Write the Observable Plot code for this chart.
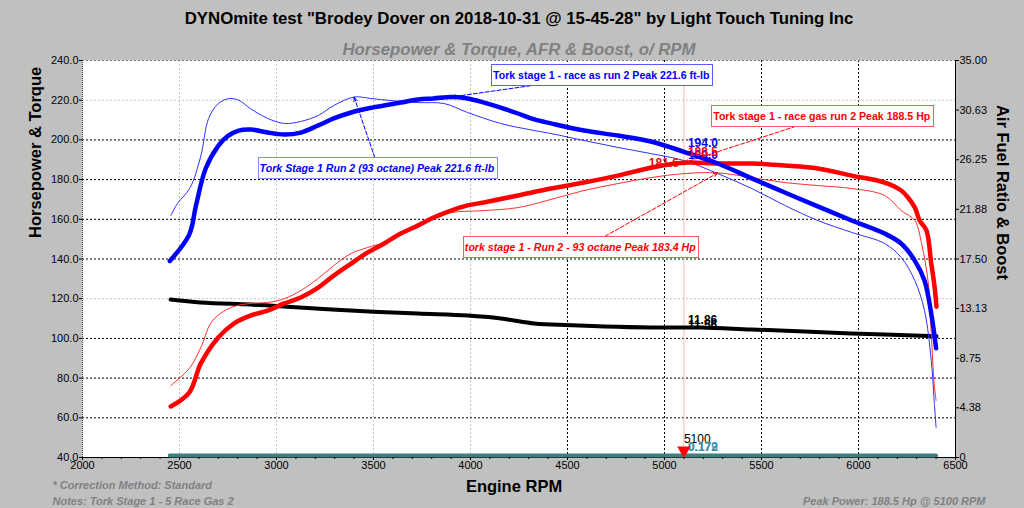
<!DOCTYPE html>
<html><head><meta charset="utf-8">
<script src="https://cdn.jsdelivr.net/npm/d3@7"></script>
<script src="https://cdn.jsdelivr.net/npm/@observablehq/plot@0.6"></script>
<style>
html,body{margin:0;padding:0;background:#c0c0c0;}
#chart{width:1024px;height:508px;}
</style></head><body><div id="chart"></div>
<script>
// ---------- data ----------
const titleText = "DYNOmite test \"Brodey Dover on 2018-10-31 @ 15-45-28\" by Light Touch Tuning Inc";
const subtitleText = "Horsepower & Torque, AFR & Boost, o/ RPM";
const leftAxisTitle = "Horsepower & Torque";
const rightAxisTitle = "Air Fuel Ratio & Boost";
const xAxisTitle = "Engine RPM";
const footLeft = ["* Correction Method: Standard", "Notes: Tork Stage 1 - 5 Race Gas 2"];
const footRight = "Peak Power: 188.5 Hp @ 5100 RPM";

const rpmTicks = [2000, 2500, 3000, 3500, 4000, 4500, 5000, 5500, 6000, 6500];
const leftTicks = [40, 60, 80, 100, 120, 140, 160, 180, 200, 220, 240];
const rightTickLabels = ["0", "4.38", "8.75", "13.13", "17.50", "21.88", "26.25", "30.63", "35.00"];

// Torque, race gas run 2 (thick blue), ft-lb
const raceTqRpm = [2450, 2550, 2585, 2635, 2700, 2750, 2805, 2870, 2955, 3040, 3125, 3215, 3295, 3385, 3470, 3555, 3640, 3730, 3810, 3900, 3985, 4070, 4155, 4245, 4330, 4415, 4585, 4760, 4930, 5100, 5275, 5450, 5620, 5790, 5965, 6135, 6220, 6290, 6340, 6375, 6400];
const raceTq    = [139, 152.3, 167, 185.6, 197, 202, 204.7, 205.2, 203.7, 202.7, 203.7, 207.3, 210.8, 213.8, 215.8, 217.3, 218.8, 220.4, 220.9, 221.6, 220.9, 218.8, 216.3, 213.3, 210.3, 208.3, 204.7, 202.2, 199.2, 194.0, 188.1, 180.6, 173.5, 166.5, 159.4, 152.8, 147.8, 139.2, 129.2, 112.5, 95];

// Torque, run 2 93 octane (thin blue)
const octTqRpm = [2455, 2490, 2555, 2610, 2650, 2700, 2755, 2805, 2865, 2955, 3040, 3125, 3215, 3295, 3400, 3485, 3590, 3730, 3865, 3985, 4155, 4330, 4415, 4585, 4760, 4930, 5100, 5275, 5450, 5620, 5790, 5965, 6135, 6220, 6290, 6340, 6375, 6390, 6400];
const octTq    = [161.9, 168, 176, 192, 210.8, 218.3, 220.8, 220, 215.8, 210.8, 208.3, 209.3, 212.3, 217.3, 221.6, 220.9, 219.8, 218.8, 218.3, 213.8, 208.3, 204.7, 203.2, 199.7, 196.2, 193.1, 189.6, 183, 175.5, 167, 159.4, 153.4, 147.8, 140.8, 129.2, 114.1, 88.9, 68.7, 55];

// Horsepower, race gas run 2 (thick red)
const raceHpRpm = [2455, 2550, 2610, 2700, 2780, 2865, 2955, 3040, 3125, 3215, 3295, 3385, 3470, 3555, 3640, 3730, 3810, 3900, 3985, 4070, 4245, 4415, 4585, 4760, 4930, 5100, 5275, 5450, 5620, 5790, 5965, 6135, 6220, 6255, 6290, 6315, 6350, 6375, 6390, 6402];
const raceHp    = [65.7, 72.7, 87.4, 100.5, 107.5, 111.5, 114, 117.6, 120.6, 125.6, 131.6, 137.7, 143.3, 147.8, 152.8, 156.9, 160.9, 164.4, 167, 168.5, 172, 175.5, 178.5, 182, 186, 188.5, 188.1, 188.1, 187.1, 185.6, 182, 178.5, 174.5, 171, 166, 159.4, 154.4, 137.7, 127.7, 116];

// Horsepower, run 2 93 octane (thin red)
const octHpRpm = [2455, 2550, 2610, 2660, 2710, 2780, 2865, 2955, 3040, 3125, 3215, 3295, 3385, 3470, 3555, 3640, 3730, 3810, 3900, 4070, 4245, 4415, 4585, 4760, 4930, 5100, 5275, 5450, 5620, 5790, 5965, 6135, 6220, 6290, 6325, 6360, 6375, 6390, 6400];
const octHp    = [76.3, 84.8, 95.4, 107.5, 112.5, 116.1, 117.6, 118.1, 120, 124.1, 130.2, 136.7, 142.8, 145.8, 148.3, 152.8, 157.9, 160.9, 163.4, 164.4, 165.9, 170, 174.5, 178, 181, 183, 183.4, 181, 178.5, 177, 175.5, 172, 164.4, 159.4, 147.8, 127.7, 102.5, 77.3, 68.7];

// Air fuel ratio (right axis units)
const afrRpm  = [2454, 2609, 2867, 3037, 3383, 3729, 3987, 4157, 4327, 4415, 4931, 5189, 5447, 5963, 6402];
const afrRace = [13.93, 13.67, 13.48, 13.32, 12.95, 12.69, 12.51, 12.25, 11.81, 11.73, 11.46, 11.46, 11.29, 10.94, 10.68];
const afrOct  = [13.9, 13.62, 13.43, 13.25, 12.9, 12.65, 12.45, 12.18, 11.74, 11.68, 11.42, 11.4, 11.24, 10.9, 10.68];

// Boost (right axis units)
const boostRpm = [2450, 3000, 4000, 5100, 6000, 6400];
const boost    = [0.18, 0.18, 0.18, 0.179, 0.18, 0.18];

// cursor readout
const cursorRpm = 5100;
const annotationTexts = [
  "Tork stage 1 - race as run 2 Peak 221.6 ft-lb",
  "Tork Stage 1 Run 2 (93 octane) Peak 221.6 ft-lb",
  "Tork stage 1 - race gas run 2 Peak 188.5 Hp",
  "tork stage 1 - Run 2 - 93 octane Peak 183.4 Hp"
];

// ---------- helpers ----------
const toLeft = a => 40 + a * 200 / 35;
const rows = (rpm, vals, f = v => v) => rpm.map((r, i) => ({rpm: r, v: f(vals[i])}));
const peak = (rpm, vals) => { const i = d3.maxIndex(vals); return {rpm: rpm[i], v: vals[i]}; };
const rightMap = new Map(rightTickLabels.map(l => [toLeft(+l), l]));
const minorRpm = d3.range(2000, 6501, 100).filter(r => r % 500 !== 0);

const pkRaceTq = peak(raceTqRpm, raceTq);
const pkOctTq = peak(octTqRpm, octTq);
const pkRaceHp = peak(raceHpRpm, raceHp);
const pkOctHp = peak(octHpRpm, octHp);

const BLUE = "#0000ff", RED = "#ff0000", TEAL = "#3f7f7f";
const font = "'Liberation Sans', Arial, Helvetica, sans-serif";
const annSize = 10.6;

const svg = Plot.plot({
  width: 1024, height: 508,
  marginLeft: 82, marginRight: 69, marginTop: 60, marginBottom: 51,
  x: {domain: [2000, 6500]},
  y: {domain: [40, 240]},
  style: {background: "#c0c0c0", fontFamily: font, fontSize: "11px", color: "#000", overflow: "visible"},
  marks: [
    Plot.frame({fill: "white", stroke: null}),
    // grid
    Plot.ruleX([2500, 3000, 3500, 4000], {stroke: "#c4c4c4", strokeDasharray: "2,2"}),
    Plot.ruleX([4500, 5000, 5500, 6000], {stroke: "#000", strokeDasharray: "2,2"}),
    Plot.ruleY([120, 220], {stroke: "#c4c4c4", strokeDasharray: "2,2"}),
    Plot.ruleY([60, 80, 100, 140, 160, 180, 200], {stroke: "#000", strokeDasharray: "2,2"}),
    Plot.ruleY([240], {stroke: "#808080", strokeDasharray: "2,2"}),
    Plot.ruleX([2000], {stroke: "#404040", strokeDasharray: "1,1"}),
    Plot.ruleX([6500], {stroke: "#000"}),
    Plot.ruleY([40], {stroke: "#000"}),
    // cursor line
    Plot.ruleX([cursorRpm], {stroke: "#ffb4b4"}),
    // series
    Plot.line(rows(boostRpm, boost, toLeft), {x: "rpm", y: "v", stroke: TEAL, strokeWidth: 4}),
    Plot.line(rows(afrRpm, afrOct, toLeft), {x: "rpm", y: "v", stroke: "#808080", strokeWidth: 1.5, curve: "catmull-rom"}),
    Plot.line(rows(afrRpm, afrRace, toLeft), {x: "rpm", y: "v", stroke: "#000", strokeWidth: 4, curve: "catmull-rom"}),
    Plot.line(rows(octHpRpm, octHp), {x: "rpm", y: "v", stroke: "#ff3030", strokeWidth: 1, curve: "catmull-rom"}),
    Plot.line(rows(octTqRpm, octTq), {x: "rpm", y: "v", stroke: "#3030ff", strokeWidth: 1, curve: "catmull-rom"}),
    Plot.line(rows(raceHpRpm, raceHp), {x: "rpm", y: "v", stroke: RED, strokeWidth: 4.5, curve: "catmull-rom", strokeLinejoin: "round"}),
    Plot.line(rows(raceTqRpm, raceTq), {x: "rpm", y: "v", stroke: BLUE, strokeWidth: 4.5, curve: "catmull-rom", strokeLinejoin: "round"}),
    // annotation arrows
    Plot.arrow([{x1: 4678, y1: 232.4, x2: pkRaceTq.rpm, y2: pkRaceTq.v}], {x1: "x1", y1: "y1", x2: "x2", y2: "y2", stroke: BLUE, strokeWidth: 1, strokeDasharray: "4,2", headLength: 7, headAngle: 40}),
    Plot.arrow([{x1: 3527, y1: 185.3, x2: pkOctTq.rpm, y2: pkOctTq.v}], {x1: "x1", y1: "y1", x2: "x2", y2: "y2", stroke: BLUE, strokeWidth: 1, strokeDasharray: "4,2", headLength: 7, headAngle: 40}),
    Plot.arrow([{x1: 5824, y1: 211.5, x2: pkRaceHp.rpm, y2: pkRaceHp.v}], {x1: "x1", y1: "y1", x2: "x2", y2: "y2", stroke: RED, strokeWidth: 1, strokeDasharray: "4,2", headLength: 7, headAngle: 40}),
    Plot.arrow([{x1: 4585, y1: 145.5, x2: pkOctHp.rpm, y2: pkOctHp.v}], {x1: "x1", y1: "y1", x2: "x2", y2: "y2", stroke: RED, strokeWidth: 1, strokeDasharray: "4,2", headLength: 7, headAngle: 40}),
    // annotation texts
    Plot.text([annotationTexts[0]], {x: () => 4116, y: () => 232.4, text: d => d, textAnchor: "start", fill: BLUE, fontWeight: "bold", fontSize: annSize}),
    Plot.text([annotationTexts[1]], {x: () => 2913, y: () => 185.3, text: d => d, textAnchor: "start", fill: BLUE, fontWeight: "bold", fontStyle: "italic", fontSize: annSize}),
    Plot.text([annotationTexts[2]], {x: () => 5251, y: () => 211.5, text: d => d, textAnchor: "start", fill: RED, fontWeight: "bold", fontSize: annSize}),
    Plot.text([annotationTexts[3]], {x: () => 3971, y: () => 145.5, text: d => d, textAnchor: "start", fill: RED, fontWeight: "bold", fontStyle: "italic", fontSize: annSize}),
    // cursor readouts
    Plot.text(["181.6"], {x: () => cursorRpm, y: () => 181.6, text: d => d, textAnchor: "end", dx: -5, dy: -13, fill: RED, fontWeight: "bold", fontSize: 12}),
    Plot.text(["189.0"], {x: () => cursorRpm, y: () => 189.0, text: d => d, textAnchor: "start", dx: 4, dy: -7, fill: BLUE, fontWeight: "bold", fontSize: 12}),
    Plot.text(["188.5"], {x: () => cursorRpm, y: () => 188.5, text: d => d, textAnchor: "start", dx: 4, dy: -11, fill: RED, fontWeight: "bold", fontSize: 12}),
    Plot.text(["194.0"], {x: () => cursorRpm, y: () => 194.0, text: d => d, textAnchor: "start", dx: 4, dy: -9, fill: BLUE, fontWeight: "bold", fontSize: 12}),
    Plot.text(["11.56"], {x: () => cursorRpm, y: () => toLeft(11.56), text: d => d, textAnchor: "start", dx: 4, dy: -1, fill: "#000", fontWeight: "bold", fontSize: 12}),
    Plot.text(["11.86"], {x: () => cursorRpm, y: () => toLeft(11.86), text: d => d, textAnchor: "start", dx: 4, dy: -3, fill: "#000", fontWeight: "bold", fontSize: 12}),
    Plot.text(["5100"], {x: () => cursorRpm, y: () => 40, text: d => d, textAnchor: "start", dx: 0, dy: -18, fill: "#000", fontSize: 12}),
    Plot.text(["0.172"], {x: () => cursorRpm, y: () => toLeft(0.172), text: d => d, textAnchor: "start", dx: 4, dy: -8, fill: "#3a8fa8", fontWeight: "bold", fontSize: 12}),
    Plot.text(["0.179"], {x: () => cursorRpm, y: () => toLeft(0.179), text: d => d, textAnchor: "start", dx: 4, dy: -8, fill: "#3a8fa8", fontWeight: "bold", fontSize: 12, fillOpacity: 0.85}),
    Plot.dot([cursorRpm], {x: d => d, y: () => 40, symbol: "triangle", rotate: 180, r: 5, fill: RED, stroke: null, dy: -7}),
    // axes
    Plot.axisX(rpmTicks, {tickSize: 3, tickPadding: 1, tickFormat: d => String(d), fontSize: 11, label: null}),
    Plot.axisX(minorRpm, {tickSize: 2, tickFormat: () => "", label: null}),
    Plot.axisY(leftTicks, {anchor: "left", tickSize: 3, tickPadding: 1, tickFormat: d => d.toFixed(1), fontSize: 11, label: null}),
    Plot.axisY([...rightMap.keys()], {anchor: "right", tickSize: 3, tickPadding: 1, tickFormat: d => rightMap.get(d), fontSize: 11, label: null}),
    // titles
    Plot.text([titleText], {frameAnchor: "top", text: d => d, dy: -48, fontSize: 16.8, fontWeight: "bold", fill: "#000"}),
    Plot.text([subtitleText], {frameAnchor: "top", text: d => d, dy: -17, fontSize: 16.8, fontWeight: "bold", fontStyle: "italic", fill: "#808080"}),
    Plot.text([leftAxisTitle], {frameAnchor: "left", text: d => d, dx: -47, dy: -21, rotate: -90, fontSize: 16.5, fontWeight: "bold", fill: "#000"}),
    Plot.text([rightAxisTitle], {frameAnchor: "right", text: d => d, dx: 47, dy: 21, rotate: 90, fontSize: 16.5, fontWeight: "bold", fill: "#000"}),
    Plot.text([xAxisTitle], {frameAnchor: "bottom", text: d => d, dx: -5, dy: 34, fontSize: 16.5, fontWeight: "bold", fill: "#000"}),
    Plot.text([footLeft[0]], {frameAnchor: "bottom-left", text: d => d, textAnchor: "start", dx: -30, dy: 31, fontSize: 11, fontWeight: "bold", fontStyle: "italic", fill: "#808080"}),
    Plot.text([footLeft[1]], {frameAnchor: "bottom-left", text: d => d, textAnchor: "start", dx: -30, dy: 47, fontSize: 11, fontWeight: "bold", fontStyle: "italic", fill: "#808080"}),
    Plot.text([footRight], {frameAnchor: "bottom-right", text: d => d, textAnchor: "end", dx: 30, dy: 47, fontSize: 11, fontWeight: "bold", fontStyle: "italic", fill: "#808080"})
  ]
});
document.getElementById("chart").appendChild(svg);

// boxes around annotation texts
const boxStrokes = ["#5a5aff", "#8c8cff", "#ff5a5a", "#ff5a5a"];
const sr = svg.getBoundingClientRect();
annotationTexts.forEach((t, k) => {
  const el = Array.from(svg.querySelectorAll("text")).find(e => e.textContent === t);
  if (!el) return;
  const b = el.getBoundingClientRect();
  const rect = document.createElementNS("http://www.w3.org/2000/svg", "rect");
  const cy = b.top - sr.top + b.height / 2;
  rect.setAttribute("x", Math.round(b.left - sr.left - 2) + 0.5);
  rect.setAttribute("y", Math.round(cy - 11) + 0.5);
  rect.setAttribute("width", Math.round(b.width + 4));
  rect.setAttribute("height", 21);
  rect.setAttribute("fill", "white");
  rect.setAttribute("stroke", boxStrokes[k]);
  let node = el;
  while (node.parentNode && node.parentNode !== svg) node = node.parentNode;
  svg.insertBefore(rect, node);
});
</script></body></html>
